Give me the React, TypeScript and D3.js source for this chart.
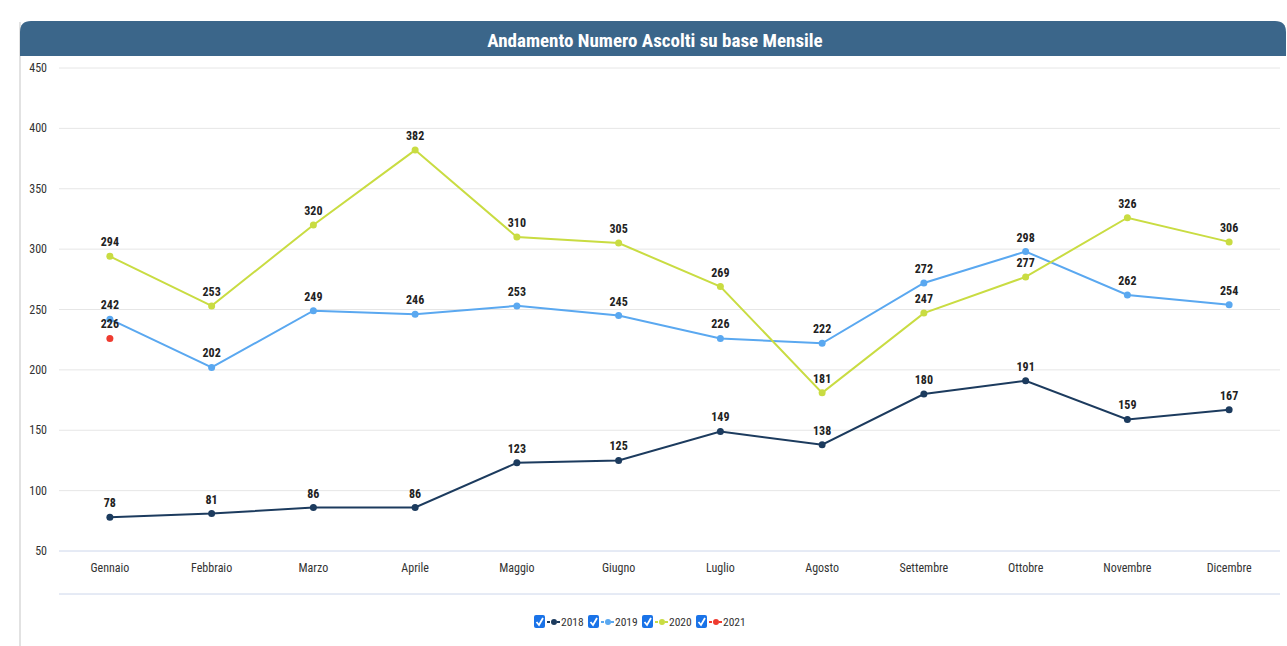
import React from "react";
import * as d3 from "d3";

const months = ["Gennaio","Febbraio","Marzo","Aprile","Maggio","Giugno","Luglio","Agosto","Settembre","Ottobre","Novembre","Dicembre"];
const s2018 = [78,81,86,86,123,125,149,138,180,191,159,167];
const s2019 = [242,202,249,246,253,245,226,222,272,298,262,254];
const s2020 = [294,253,320,382,310,305,269,181,247,277,326,306];
const s2021 = [226];
const yTicks = [50,100,150,200,250,300,350,400,450];

const seriesList = [
  { name: "2018", values: s2018, color: "#1c3b5e" },
  { name: "2019", values: s2019, color: "#5aa8f0" },
  { name: "2020", values: s2020, color: "#c9dc42" },
  { name: "2021", values: s2021, color: "#ef3b30" },
];

const FONT = "'Liberation Sans Narrow', 'Roboto Condensed', Roboto, sans-serif";

export default function App() {
  const W = 1287, H = 646;
  const x = d3.scaleBand<string>().domain(months).range([59, 1280]);
  const y = d3.scaleLinear().domain([50, 450]).range([551, 68]);
  const cx = (m: string) => (x(m) as number) + x.bandwidth() / 2;
  const line = d3.line<number>().x((_, i) => cx(months[i])).y(d => y(d));

  const legendX = 534;
  const itemW = 54;

  return (
    <svg width={W} height={H} style={{ position: "absolute", left: 0, top: 0, background: "#fff" }}>
      <rect x={0} y={0} width={W} height={H} fill="#fff" />
      <line x1={20} x2={20} y1={22} y2={646} stroke="#d8d8d8" strokeWidth={1.5} />
      <path d="M20,56 L20,32 Q20,21 31,21 L1275,21 Q1286,21 1286,32 L1286,56 Z" fill="#3b668a" />
      <text x={655} y={47} textAnchor="middle" fill="#fff" fontFamily={FONT} fontWeight="bold" fontSize={19}>
        Andamento Numero Ascolti su base Mensile
      </text>
      {yTicks.map(t => (
        <g key={t}>
          <line x1={59} x2={1280} y1={y(t)} y2={y(t)} stroke={t === 50 ? "#ccd6eb" : "#e6e6e6"} />
          <text x={47} y={y(t) + 4} textAnchor="end" fontFamily={FONT} fontSize={12} fill="#333">{t}</text>
        </g>
      ))}
      <line x1={59} x2={1280} y1={594} y2={594} stroke="#ccd6eb" />
      {months.map(m => (
        <text key={m} x={cx(m)} y={572} textAnchor="middle" fontFamily={FONT} fontSize={12} fill="#333">{m}</text>
      ))}
      {seriesList.map(s => (
        <g key={s.name}>
          {s.values.length > 1 && <path d={line(s.values) as string} fill="none" stroke={s.color} strokeWidth={2} />}
          {s.values.map((v, i) => (
            <circle key={i} cx={cx(months[i])} cy={y(v)} r={3.5} fill={s.color} />
          ))}
          {s.values.map((v, i) => (
            <text key={"l" + i} x={cx(months[i])} y={y(v) - 10} textAnchor="middle" fontFamily={FONT} fontWeight="bold" fontSize={12} fill="#222">{v}</text>
          ))}
        </g>
      ))}
      {seriesList.map((s, i) => {
        const lx = legendX + i * itemW;
        const ly = 622;
        return (
          <g key={s.name}>
            <rect x={lx} y={ly - 7} width={11} height={13} rx={2} fill="#1a73e8" />
            <path d={`M${lx + 2.5},${ly} L${lx + 5},${ly + 3} L${lx + 9},${ly - 4}`} fill="none" stroke="#fff" strokeWidth={1.8} />
            <line x1={lx + 13} x2={lx + 27} y1={ly} y2={ly} stroke={s.color} strokeWidth={2} strokeDasharray="3,2" />
            <circle cx={lx + 20} cy={ly} r={3} fill={s.color} />
            <text x={lx + 27} y={ly + 4} fontFamily={FONT} fontSize={11.5} fill="#333">{s.name}</text>
          </g>
        );
      })}
    </svg>
  );
}
